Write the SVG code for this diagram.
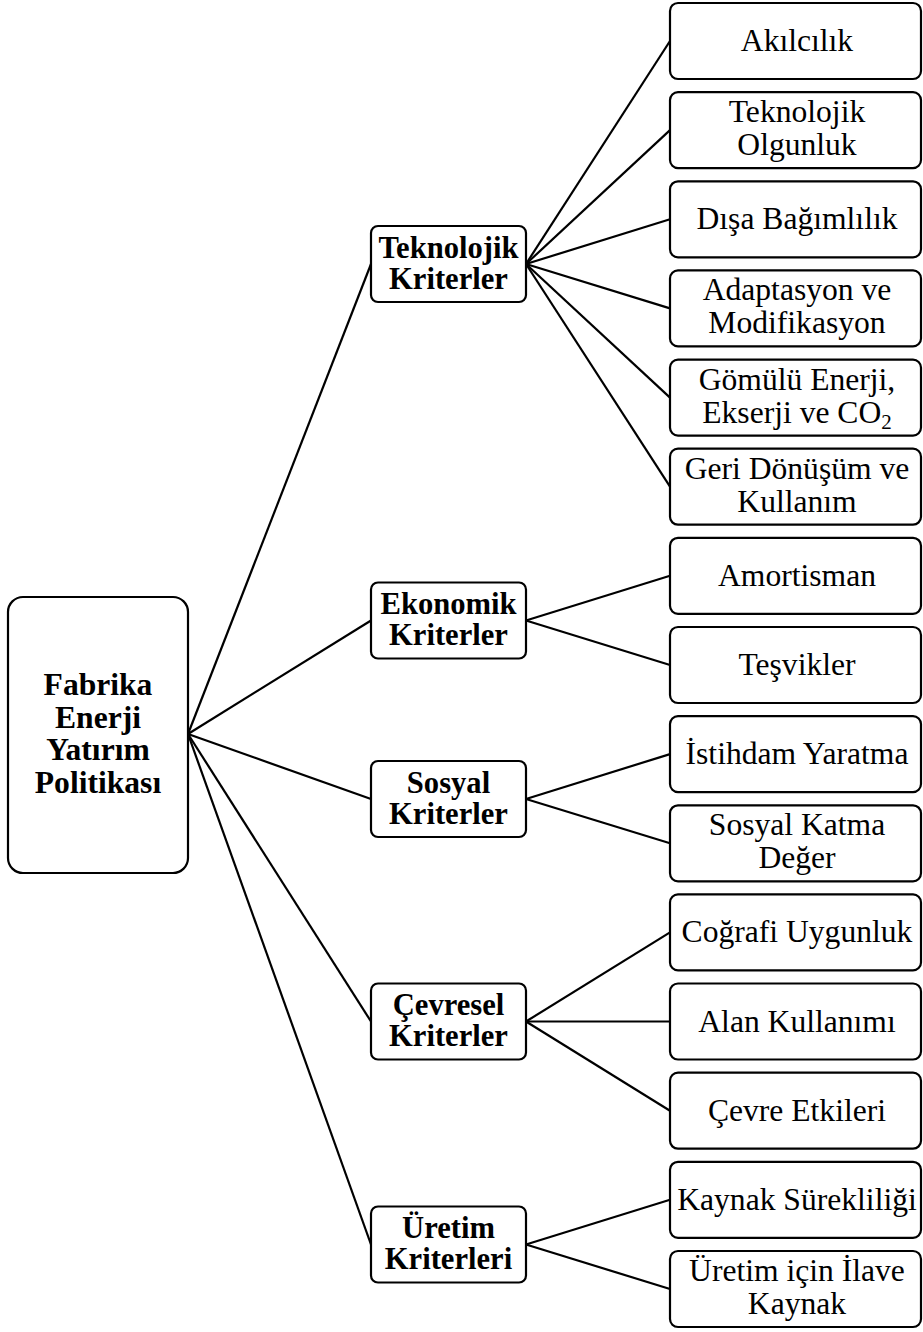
<svg xmlns="http://www.w3.org/2000/svg" width="923" height="1332" viewBox="0 0 923 1332">
<style>
.box{fill:#fff;stroke:#000;stroke-width:2.2}
.t{font-family:"Liberation Serif","Times New Roman",serif;font-size:31.6px;text-anchor:middle;fill:#000}
.b{font-weight:bold}
.r{font-size:31.6px}
.m{font-size:30.6px}
.c line{stroke:#000;stroke-width:2.2}
</style>
<rect width="923" height="1332" fill="#fff"/>
<g class="c" id="connectors">
<line x1="188" y1="734" x2="371" y2="264"/>
<line x1="188" y1="734" x2="371" y2="620.5"/>
<line x1="188" y1="734" x2="371" y2="799"/>
<line x1="188" y1="734" x2="371" y2="1021.5"/>
<line x1="188" y1="734" x2="371" y2="1244.5"/>
<line x1="526" y1="264" x2="670" y2="41"/>
<line x1="526" y1="264" x2="670" y2="130.1"/>
<line x1="526" y1="264" x2="670" y2="219.3"/>
<line x1="526" y1="264" x2="670" y2="308.4"/>
<line x1="526" y1="264" x2="670" y2="397.6"/>
<line x1="526" y1="264" x2="670" y2="486.7"/>
<line x1="526" y1="620.5" x2="670" y2="575.8"/>
<line x1="526" y1="620.5" x2="670" y2="665"/>
<line x1="526" y1="799" x2="670" y2="754.1"/>
<line x1="526" y1="799" x2="670" y2="843.3"/>
<line x1="526" y1="1021.5" x2="670" y2="932.4"/>
<line x1="526" y1="1021.5" x2="670" y2="1021.5"/>
<line x1="526" y1="1021.5" x2="670" y2="1110.7"/>
<line x1="526" y1="1244.5" x2="670" y2="1199.8"/>
<line x1="526" y1="1244.5" x2="670" y2="1289"/>
</g>
<g id="root">
<rect class="box" x="8" y="597" width="180" height="276" rx="15"/>
<text class="t b r" x="98" y="695">Fabrika</text>
<text class="t b r" x="98" y="727.5">Enerji</text>
<text class="t b r" x="98" y="760">Yatırım</text>
<text class="t b r" x="98" y="792.5">Politikası</text>
</g>
<g id="mid-teknolojik">
<rect class="box" x="371" y="226" width="155" height="76" rx="7"/>
<text class="t b m" x="448.5" y="257.5">Teknolojik</text>
<text class="t b m" x="448.5" y="288.5">Kriterler</text>
</g>
<g id="mid-ekonomik">
<rect class="box" x="371" y="582.5" width="155" height="76" rx="7"/>
<text class="t b m" x="448.5" y="614">Ekonomik</text>
<text class="t b m" x="448.5" y="645">Kriterler</text>
</g>
<g id="mid-sosyal">
<rect class="box" x="371" y="761" width="155" height="76" rx="7"/>
<text class="t b m" x="448.5" y="792.5">Sosyal</text>
<text class="t b m" x="448.5" y="823.5">Kriterler</text>
</g>
<g id="mid-cevresel">
<rect class="box" x="371" y="983.5" width="155" height="76" rx="7"/>
<text class="t b m" x="448.5" y="1015">Çevresel</text>
<text class="t b m" x="448.5" y="1046">Kriterler</text>
</g>
<g id="mid-uretim">
<rect class="box" x="371" y="1206.5" width="155" height="76" rx="7"/>
<text class="t b m" x="448.5" y="1238">Üretim</text>
<text class="t b m" x="448.5" y="1269">Kriterleri</text>
</g>
<g id="leaf-akilcilik">
<rect class="box" x="670" y="3" width="251" height="76" rx="8"/>
<text class="t" x="797" y="51">Akılcılık</text>
</g>
<g id="leaf-olgunluk">
<rect class="box" x="670" y="92.1" width="251" height="76" rx="8"/>
<text class="t" x="797" y="122.1">Teknolojik</text>
<text class="t" x="797" y="155.1">Olgunluk</text>
</g>
<g id="leaf-disa">
<rect class="box" x="670" y="181.3" width="251" height="76" rx="8"/>
<text class="t" x="797" y="229.3">Dışa Bağımlılık</text>
</g>
<g id="leaf-adaptasyon">
<rect class="box" x="670" y="270.4" width="251" height="76" rx="8"/>
<text class="t" x="797" y="300.4">Adaptasyon ve</text>
<text class="t" x="797" y="333.4">Modifikasyon</text>
</g>
<g id="leaf-gomulu">
<rect class="box" x="670" y="359.6" width="251" height="76" rx="8"/>
<text class="t" x="797" y="389.6">Gömülü Enerji,</text>
<text class="t" x="797" y="422.6">Ekserji ve CO<tspan font-size="21" dy="6">2</tspan></text>
</g>
<g id="leaf-geri">
<rect class="box" x="670" y="448.7" width="251" height="76" rx="8"/>
<text class="t" x="797" y="478.7">Geri Dönüşüm ve</text>
<text class="t" x="797" y="511.7">Kullanım</text>
</g>
<g id="leaf-amortisman">
<rect class="box" x="670" y="537.8" width="251" height="76" rx="8"/>
<text class="t" x="797" y="585.8">Amortisman</text>
</g>
<g id="leaf-tesvikler">
<rect class="box" x="670" y="627" width="251" height="76" rx="8"/>
<text class="t" x="797" y="675">Teşvikler</text>
</g>
<g id="leaf-istihdam">
<rect class="box" x="670" y="716.1" width="251" height="76" rx="8"/>
<text class="t" x="797" y="764.1">İstihdam Yaratma</text>
</g>
<g id="leaf-katma">
<rect class="box" x="670" y="805.3" width="251" height="76" rx="8"/>
<text class="t" x="797" y="835.3">Sosyal Katma</text>
<text class="t" x="797" y="868.3">Değer</text>
</g>
<g id="leaf-cografi">
<rect class="box" x="670" y="894.4" width="251" height="76" rx="8"/>
<text class="t" x="797" y="942.4">Coğrafi Uygunluk</text>
</g>
<g id="leaf-alan">
<rect class="box" x="670" y="983.5" width="251" height="76" rx="8"/>
<text class="t" x="797" y="1031.5">Alan Kullanımı</text>
</g>
<g id="leaf-cevre">
<rect class="box" x="670" y="1072.7" width="251" height="76" rx="8"/>
<text class="t" x="797" y="1120.7">Çevre Etkileri</text>
</g>
<g id="leaf-kaynak">
<rect class="box" x="670" y="1161.8" width="251" height="76" rx="8"/>
<text class="t" x="797" y="1209.8">Kaynak Sürekliliği</text>
</g>
<g id="leaf-ilave">
<rect class="box" x="670" y="1251" width="251" height="76" rx="8"/>
<text class="t" x="797" y="1281">Üretim için İlave</text>
<text class="t" x="797" y="1314">Kaynak</text>
</g>
</svg>
